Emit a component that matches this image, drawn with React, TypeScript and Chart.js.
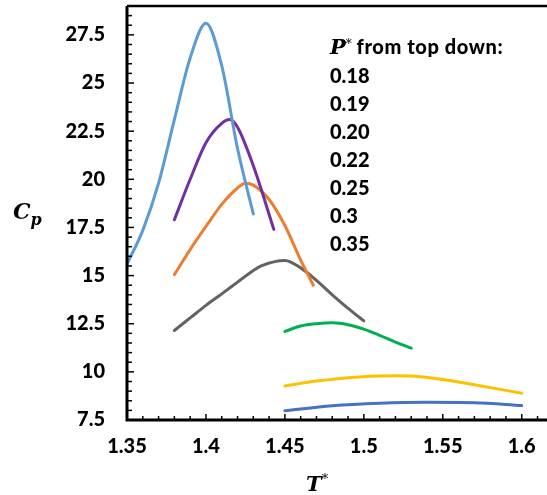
import React, { useEffect, useRef } from "react";
import { Chart, registerables } from "chart.js";

Chart.register(...registerables);

// ---- data (T*, Cp) per pressure P* ----
const T_018 = [1.35, 1.36, 1.37, 1.38, 1.39, 1.40, 1.41, 1.42, 1.43];
const CP_018 = [15.6, 17.35, 19.8, 23.1, 26.3, 28.1, 25.9, 21.6, 18.2];

const T_019 = [1.38, 1.39, 1.40, 1.41, 1.415, 1.42, 1.43, 1.443];
const CP_019 = [17.9, 20.0, 21.9, 22.9, 23.1, 22.7, 20.7, 17.4];

const T_020 = [1.38, 1.39, 1.40, 1.41, 1.42, 1.425, 1.43, 1.44, 1.45, 1.46, 1.468];
const CP_020 = [15.05, 16.35, 17.55, 18.7, 19.55, 19.8, 19.7, 18.95, 17.6, 15.8, 14.5];

const T_022 = [1.38, 1.39, 1.40, 1.41, 1.42, 1.43, 1.435, 1.45, 1.46, 1.47, 1.48, 1.49, 1.50];
const CP_022 = [12.15, 12.8, 13.45, 14.05, 14.66, 15.26, 15.5, 15.78, 15.4, 14.75, 14.0, 13.3, 12.65];

const T_025 = [1.45, 1.46, 1.47, 1.48, 1.49, 1.50, 1.51, 1.52, 1.53];
const CP_025 = [12.1, 12.38, 12.5, 12.55, 12.45, 12.22, 11.9, 11.55, 11.23];

const T_030 = [1.45, 1.47, 1.49, 1.51, 1.52, 1.53, 1.55, 1.57, 1.60];
const CP_030 = [9.27, 9.52, 9.7, 9.79, 9.8, 9.78, 9.6, 9.33, 8.89];

const T_035 = [1.45, 1.48, 1.51, 1.54, 1.57, 1.60];
const CP_035 = [7.98, 8.24, 8.37, 8.42, 8.4, 8.25];

const P_LABELS = ["0.18", "0.19", "0.20", "0.22", "0.25", "0.3", "0.35"];
const SERIES_T = [T_018, T_019, T_020, T_022, T_025, T_030, T_035];
const SERIES_CP = [CP_018, CP_019, CP_020, CP_022, CP_025, CP_030, CP_035];
const COLORS = ["#5B9BD5", "#7030A0", "#ED7D31", "#636363", "#00B050", "#FFC000", "#4472C4"];

const X_TICKS = [1.35, 1.4, 1.45, 1.5, 1.55, 1.6];
const Y_TICKS = [7.5, 10, 12.5, 15, 17.5, 20, 22.5, 25, 27.5];

const X_MIN = 1.35;
const X_MAX = 1.616;
const Y_MIN = 7.5;
const Y_MAX = 29;

const fmt = (v: number) => String(Math.round(v * 1000) / 1000);

const axesPlugin = {
  id: "axesPlugin",
  afterDraw(chart: any) {
    const { ctx, chartArea, scales } = chart;
    const xs = scales.x;
    const ys = scales.y;
    ctx.save();
    ctx.strokeStyle = "#000";
    ctx.lineWidth = 1.5;
    for (let i = 0; ; i++) {
      const v = X_MIN + i * 0.01;
      if (v > X_MAX + 1e-9) break;
      const px = xs.getPixelForValue(v);
      const major = i % 5 === 0;
      ctx.beginPath();
      ctx.moveTo(px, chartArea.bottom);
      ctx.lineTo(px, chartArea.bottom - (major ? 6 : 4));
      ctx.stroke();
    }
    for (let i = 0; ; i++) {
      const v = Y_MIN + i * 0.5;
      if (v > Y_MAX + 1e-9) break;
      const py = ys.getPixelForValue(v);
      const major = i % 5 === 0;
      ctx.beginPath();
      ctx.moveTo(chartArea.left, py);
      ctx.lineTo(chartArea.left + (major ? 7 : 5), py);
      ctx.stroke();
    }
    ctx.lineWidth = 3;
    ctx.beginPath();
    ctx.moveTo(chartArea.left, chartArea.top);
    ctx.lineTo(chartArea.left, chartArea.bottom);
    ctx.lineTo(chartArea.right, chartArea.bottom);
    ctx.stroke();
    ctx.lineWidth = 2.5;
    ctx.beginPath();
    ctx.moveTo(chartArea.left, chartArea.top);
    ctx.lineTo(chartArea.right, chartArea.top);
    ctx.stroke();
    ctx.restore();
  },
};

export default function App() {
  const ref = useRef<HTMLCanvasElement | null>(null);

  useEffect(() => {
    if (!ref.current) return;
    const datasets = SERIES_T.map((ts, i) => ({
      label: P_LABELS[i],
      data: ts.map((t, j) => ({ x: t, y: SERIES_CP[i][j] })),
      borderColor: COLORS[i],
      backgroundColor: COLORS[i],
      borderWidth: 3,
      pointRadius: 0,
      fill: false,
      cubicInterpolationMode: "monotone" as const,
      borderCapStyle: "round" as const,
    }));
    const chart = new Chart(ref.current, {
      type: "line",
      data: { datasets },
      plugins: [axesPlugin],
      options: {
        responsive: false,
        animation: false,
        layout: { padding: { top: 6, right: 0, left: 0, bottom: 0 } },
        plugins: { legend: { display: false }, tooltip: { enabled: false } },
        scales: {
          x: {
            type: "linear",
            min: X_MIN,
            max: X_MAX,
            grid: { display: false, drawTicks: false },
            border: { display: false },
            afterBuildTicks: (s: any) => {
              s.ticks = X_TICKS.map((v) => ({ value: v }));
            },
            afterFit: (s: any) => {
              s.height = 75;
              s.paddingLeft = 0;
              s.paddingRight = 0;
              s.paddingTop = 0;
              s.paddingBottom = 0;
            },
            ticks: {
              autoSkip: false,
              maxRotation: 0,
              padding: 15,
              color: "#000",
              font: { family: "Lato", weight: "900", size: 20 },
              callback: (v: any) => fmt(Number(v)),
            },
          },
          y: {
            type: "linear",
            min: Y_MIN,
            max: Y_MAX,
            grid: { display: false, drawTicks: false },
            border: { display: false },
            afterBuildTicks: (s: any) => {
              s.ticks = Y_TICKS.map((v) => ({ value: v }));
            },
            afterFit: (s: any) => {
              s.width = 127;
              s.paddingLeft = 0;
              s.paddingRight = 0;
              s.paddingTop = 0;
              s.paddingBottom = 0;
            },
            ticks: {
              autoSkip: false,
              padding: 22,
              color: "#000",
              font: { family: "Lato", weight: "900", size: 20 },
              callback: (v: any) => fmt(Number(v)),
            },
          },
        },
      },
    });
    return () => chart.destroy();
  }, []);

  const serif = '"DejaVu Serif", "Liberation Serif", serif';
  return (
    <div style={{ position: "absolute", left: 0, top: 0, width: 547, height: 495, background: "#fff", overflow: "hidden" }}>
      <canvas ref={ref} width={547} height={495} style={{ position: "absolute", left: 0, top: 0 }} />
      <div
        style={{
          position: "absolute",
          left: 330,
          top: 30,
          fontFamily: "Lato, sans-serif",
          fontWeight: 900,
          fontSize: 20,
          lineHeight: "28px",
          color: "#000",
          whiteSpace: "nowrap",
        }}
      >
        <div>
          <span style={{ fontFamily: serif, fontStyle: "italic", fontWeight: "bold", fontSize: 21 }}>P</span>
          <span style={{ fontFamily: serif, fontWeight: "normal", fontSize: 12, verticalAlign: "6px" }}>*</span>{" "}
          <span style={{ letterSpacing: "0.6px" }}>from top down:</span>
        </div>
        {P_LABELS.map((p) => (
          <div key={p}>{p}</div>
        ))}
      </div>
      <div
        style={{
          position: "absolute",
          left: 13,
          top: 198,
          fontFamily: serif,
          fontStyle: "italic",
          fontWeight: "bold",
          fontSize: 22,
          lineHeight: "26px",
          color: "#000",
          whiteSpace: "nowrap",
        }}
      >
        C<span style={{ fontSize: 16, verticalAlign: "-6px" }}>p</span>
      </div>
      <div
        style={{
          position: "absolute",
          left: 306,
          top: 466,
          fontFamily: serif,
          fontStyle: "italic",
          fontWeight: "bold",
          fontSize: 21,
          lineHeight: "26px",
          color: "#000",
          whiteSpace: "nowrap",
        }}
      >
        T<span style={{ fontWeight: "normal", fontStyle: "normal", fontSize: 13, verticalAlign: "8px" }}>*</span>
      </div>
    </div>
  );
}
